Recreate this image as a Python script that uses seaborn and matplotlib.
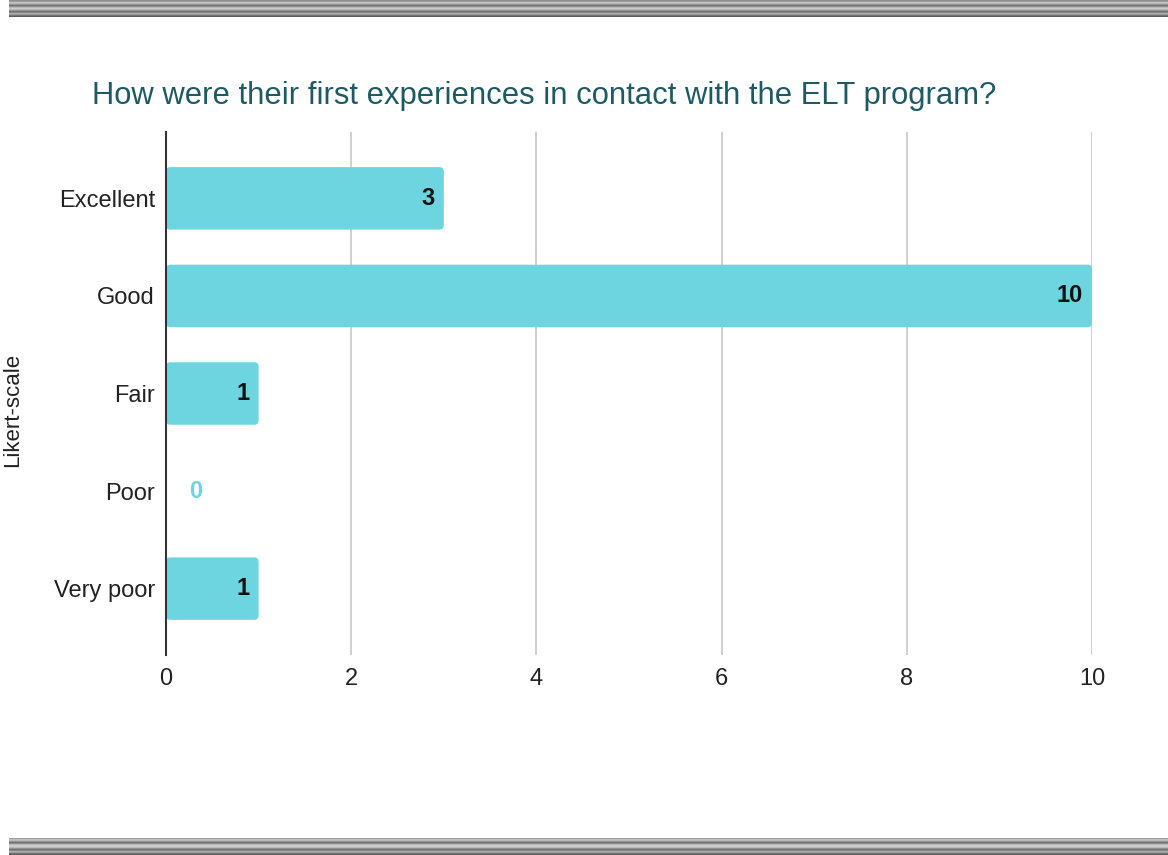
import numpy as np
import pandas as pd
import matplotlib
matplotlib.use("Agg")
import matplotlib.pyplot as plt
from matplotlib.patches import FancyBboxPatch
import seaborn as sns

# Survey responses
categories = ["Excellent", "Good", "Fair", "Poor", "Very poor"]
counts = [3, 10, 1, 0, 1]
x_ticks = [0, 2, 4, 6, 8, 10]

title = "How were their first experiences in contact with the ELT program?"
y_label = "Likert-scale"

bar_color = "#6dd5e0"
title_color = "#1e5a64"

sns.set_theme(style="white")
plt.rcParams["font.family"] = ["Liberation Sans", "DejaVu Sans"]

df = pd.DataFrame({"category": categories, "count": counts})

fig = plt.figure(figsize=(11.68, 8.55), dpi=100)
ax = fig.add_axes([166 / 1168, 1 - 655 / 855, (1092 - 166) / 1168, (655 - 132) / 855])

sns.barplot(data=df, x="count", y="category", order=categories, color=bar_color,
            saturation=1, width=0.64, ax=ax, zorder=3)

ax.set_xlim(0, 10)
ax.set_ylim(4.68, -0.68)

# Swap the plain rectangles for slightly rounded ones
for p in list(ax.patches):
    x0, y0 = p.get_x(), p.get_y()
    w, h = p.get_width(), p.get_height()
    if w <= 0:
        p.remove()
        continue
    rb = FancyBboxPatch((x0, y0), w, h,
                        boxstyle="round,pad=0,rounding_size=0.045",
                        mutation_aspect=1.05, facecolor=bar_color,
                        edgecolor="none", zorder=3)
    p.remove()
    ax.add_patch(rb)

ax.set_xticks(x_ticks)
ax.set_xticklabels([str(t) for t in x_ticks], fontsize=17, color="#222222")
ax.tick_params(axis="y", labelsize=17, labelcolor="#222222", length=0, pad=8)
ax.tick_params(axis="x", length=0, pad=9)
ax.grid(axis="x", color="#cccccc", linewidth=1.3, zorder=0)
ax.grid(axis="y", visible=False)
for side in ["top", "right", "bottom"]:
    ax.spines[side].set_visible(False)
ax.spines["left"].set_color("#333333")
ax.spines["left"].set_linewidth(1.5)
ax.spines["left"].set_zorder(5)

ax.set_xlabel("")
ax.set_ylabel("")
fig.text(2 / 1168, 1 - 410 / 855, y_label, rotation=90, fontsize=16,
         color="#222222", ha="left", va="center")

# Value labels
for i, v in enumerate(counts):
    if v > 0:
        ax.text(v - 0.1, i, str(v), ha="right", va="center", fontsize=17,
                fontweight="bold", color="#111111", zorder=6)
    else:
        ax.text(v + 0.25, i, str(v), ha="left", va="center", fontsize=17,
                fontweight="bold", color=bar_color, zorder=6)

fig.text(92 / 1168, 1 - 96 / 855, title, fontsize=22.3, color=title_color,
         ha="left", va="center")

# Striped frame bands at top and bottom
stripe = np.array([0.55, 0.62, 0.75, 0.72, 0.58, 0.45, 0.55, 0.72, 0.8, 0.72,
                   0.58, 0.45, 0.52, 0.68, 0.6, 0.45, 0.36])
band = np.tile(stripe[:, None], (1, 10))
for y0 in [1 - 17 / 855, 0]:
    bax = fig.add_axes([9 / 1168, y0, 1 - 9 / 1168, 17 / 855])
    bax.imshow(band, cmap="gray", vmin=0, vmax=1, aspect="auto",
               interpolation="nearest")
    bax.axis("off")

fig.savefig("out.png", dpi=100)
